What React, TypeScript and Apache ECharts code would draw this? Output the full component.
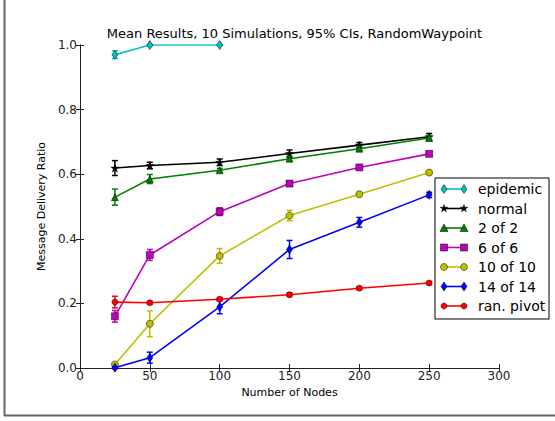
import React, { useEffect, useRef } from "react";
import * as echarts from "echarts";

const nodes = [25, 50, 100, 150, 200, 250];
const epidemicNodes = [25, 50, 100];
const epidemic = [0.97, 1.0, 1.0];
const epidemicErr = [0.012, 0, 0];
const normal = [0.619, 0.627, 0.637, 0.664, 0.69, 0.716];
const normalErr = [0.023, 0.01, 0.01, 0.011, 0.008, 0.01];
const twoOfTwo = [0.529, 0.585, 0.612, 0.648, 0.679, 0.712];
const twoOfTwoErr = [0.025, 0.014, 0.006, 0.008, 0.006, 0.008];
const sixOfSix = [0.16, 0.35, 0.484, 0.571, 0.621, 0.663];
const sixOfSixErr = [0.018, 0.017, 0.012, 0.006, 0.005, 0.005];
const tenOfTen = [0.011, 0.137, 0.347, 0.472, 0.538, 0.605];
const tenOfTenErr = [0.005, 0.04, 0.023, 0.016, 0.007, 0.007];
const fourteen = [0.001, 0.032, 0.189, 0.367, 0.451, 0.536];
const fourteenErr = [0.003, 0.017, 0.021, 0.028, 0.015, 0.008];
const ranPivot = [0.204, 0.202, 0.213, 0.227, 0.247, 0.263];
const ranPivotErr = [0.018, 0.005, 0.005, 0.006, 0.005, 0.005];

const xTicks = [0, 50, 100, 150, 200, 250, 300];
const yTicks = [0, 0.2, 0.4, 0.6, 0.8, 1.0];

const FONT = "DejaVu Sans";
const STAR_PTS: number[][] = [
  [0, -1], [0.22, -0.31], [0.95, -0.31], [0.36, 0.12], [0.59, 0.81],
  [0, 0.38], [-0.59, 0.81], [-0.36, 0.12], [-0.95, -0.31], [-0.22, -0.31],
];
const STAR = "path://M" + STAR_PTS.map((p) => p.join(",")).join(" L") + " Z";

type Marker = "diamond" | "star" | "triangle" | "square" | "circle" | "dot";

type SeriesDef = {
  name: string;
  xs: number[];
  ys: number[];
  err: number[];
  color: string;
  marker: Marker;
};

const defs: SeriesDef[] = [
  { name: "epidemic", xs: epidemicNodes, ys: epidemic, err: epidemicErr, color: "#00BFBF", marker: "diamond" },
  { name: "normal", xs: nodes, ys: normal, err: normalErr, color: "#000000", marker: "star" },
  { name: "2 of 2", xs: nodes, ys: twoOfTwo, err: twoOfTwoErr, color: "#008000", marker: "triangle" },
  { name: "6 of 6", xs: nodes, ys: sixOfSix, err: sixOfSixErr, color: "#BF00BF", marker: "square" },
  { name: "10 of 10", xs: nodes, ys: tenOfTen, err: tenOfTenErr, color: "#BFBF00", marker: "circle" },
  { name: "14 of 14", xs: nodes, ys: fourteen, err: fourteenErr, color: "#0000FF", marker: "diamond" },
  { name: "ran. pivot", xs: nodes, ys: ranPivot, err: ranPivotErr, color: "#FF0000", marker: "dot" },
];

const symbolFor = (m: Marker): [string, number | number[]] => {
  switch (m) {
    case "diamond": return ["diamond", [6, 9]];
    case "star": return [STAR, 8];
    case "triangle": return ["triangle", 7];
    case "square": return ["rect", 7];
    case "circle": return ["circle", 7];
    default: return ["circle", 6];
  }
};

const legendMarker = (m: Marker, cx: number, cy: number, color: string): any => {
  const style = { fill: color, stroke: "#000", lineWidth: 0.5 };
  switch (m) {
    case "diamond":
      return { type: "polygon", shape: { points: [[cx, cy - 4.5], [cx + 3, cy], [cx, cy + 4.5], [cx - 3, cy]] }, style };
    case "star":
      return { type: "polygon", shape: { points: STAR_PTS.map((p) => [cx + p[0] * 4, cy + p[1] * 4]) }, style };
    case "triangle":
      return { type: "polygon", shape: { points: [[cx, cy - 4], [cx + 4, cy + 3.5], [cx - 4, cy + 3.5]] }, style };
    case "square":
      return { type: "rect", shape: { x: cx - 3.5, y: cy - 3.5, width: 7, height: 7 }, style };
    case "circle":
      return { type: "circle", shape: { cx, cy, r: 3.5 }, style };
    default:
      return { type: "circle", shape: { cx, cy, r: 3 }, style };
  }
};

export default function App() {
  const ref = useRef<HTMLDivElement>(null);
  useEffect(() => {
    if (!ref.current) return;
    const chart = echarts.init(ref.current, undefined, { renderer: "svg" });
    const series: any[] = [];
    defs.forEach((d, i) => {
      series.push({
        type: "custom",
        name: d.name + " err",
        xAxisIndex: 0,
        yAxisIndex: 0,
        z: 2 + i * 2,
        silent: true,
        data: d.xs.map((x, k) => [x, d.ys[k] - d.err[k], d.ys[k] + d.err[k]]),
        encode: { x: 0, y: [1, 2] },
        renderItem: (params: any, api: any) => {
          const x = api.value(0);
          const p1 = api.coord([x, api.value(1)]);
          const p2 = api.coord([x, api.value(2)]);
          const st = { stroke: d.color, lineWidth: 1.5 };
          return {
            type: "group",
            children: [
              { type: "line", shape: { x1: p1[0], y1: p1[1], x2: p2[0], y2: p2[1] }, style: st },
              { type: "line", shape: { x1: p1[0] - 3, y1: p1[1], x2: p1[0] + 3, y2: p1[1] }, style: st },
              { type: "line", shape: { x1: p2[0] - 3, y1: p2[1], x2: p2[0] + 3, y2: p2[1] }, style: st },
            ],
          };
        },
      });
      const [sym, size] = symbolFor(d.marker);
      series.push({
        type: "line",
        name: d.name,
        xAxisIndex: 0,
        yAxisIndex: 0,
        z: 3 + i * 2,
        data: d.xs.map((x, k) => [x, d.ys[k]]),
        symbol: sym,
        symbolSize: size,
        showAllSymbol: true,
        lineStyle: { color: d.color, width: 1.6 },
        itemStyle: { color: d.color, borderColor: "#000", borderWidth: 0.5 },
        emphasis: { disabled: true },
      });
    });

    // legend drawn as graphic (matplotlib style: line with a marker at each end)
    const LX = 435, LY = 178, LW = 114, LH = 141, ROW0 = 11, ROWH = 19.5;
    const legendChildren: any[] = [
      { type: "rect", shape: { x: LX, y: LY, width: LW, height: LH }, style: { fill: "#fff", stroke: "#000", lineWidth: 1 } },
    ];
    defs.forEach((d, i) => {
      const cy = LY + ROW0 + i * ROWH;
      legendChildren.push({ type: "line", shape: { x1: 444, y1: cy, x2: 464, y2: cy }, style: { stroke: d.color, lineWidth: 1.6 } });
      legendChildren.push(legendMarker(d.marker, 444, cy, d.color));
      legendChildren.push(legendMarker(d.marker, 464, cy, d.color));
      legendChildren.push({
        type: "text",
        x: 478,
        y: cy,
        style: { text: d.name, fontFamily: FONT, fontSize: 14, fill: "#000", verticalAlign: "middle", align: "left" },
      });
    });

    const axisLine = { show: true, lineStyle: { color: "#222", width: 1 } };
    const tick = { show: true, inside: true, length: 4, lineStyle: { color: "#222" } };
    const label = { fontFamily: FONT, fontSize: 12, color: "#222" };

    chart.setOption({
      animation: false,
      backgroundColor: "#fff",
      title: {
        text: "Mean Results, 10 Simulations, 95% CIs, RandomWaypoint",
        left: 289.5,
        textAlign: "center",
        top: 22,
        textStyle: { fontFamily: FONT, fontSize: 13, fontWeight: "normal", color: "#000" },
      },
      grid: { left: 80, top: 45, width: 419, height: 323, containLabel: false },
      xAxis: [
        {
          type: "value",
          min: 0,
          max: 300,
          interval: 50,
          position: "bottom",
          name: "Number of Nodes",
          nameLocation: "middle",
          nameGap: 13,
          nameTextStyle: { fontFamily: FONT, fontSize: 11, color: "#000" },
          axisLine,
          axisTick: tick,
          axisLabel: { ...label, margin: 2, formatter: (v: number) => (xTicks.includes(v) ? String(v) : "") },
          splitLine: { show: false },
        },
        {
          type: "value",
          min: 0,
          max: 300,
          interval: 50,
          position: "top",
          axisLine,
          axisTick: tick,
          axisLabel: { show: false },
          splitLine: { show: false },
        },
      ],
      yAxis: [
        {
          type: "value",
          min: 0,
          max: 1,
          interval: 0.2,
          position: "left",
          name: "Message Delivery Ratio",
          nameLocation: "middle",
          nameGap: 19,
          nameTextStyle: { fontFamily: FONT, fontSize: 11, color: "#000" },
          axisLine,
          axisTick: tick,
          axisLabel: {
            ...label,
            margin: 3,
            formatter: (v: number) => {
              const m = yTicks.find((t) => Math.abs(t - v) < 1e-6);
              return m === undefined ? "" : m.toFixed(1);
            },
          },
          splitLine: { show: false },
        },
        {
          type: "value",
          min: 0,
          max: 1,
          interval: 0.2,
          position: "right",
          axisLine,
          axisTick: tick,
          axisLabel: { show: false },
          splitLine: { show: false },
        },
      ],
      graphic: [
        { type: "group", z: 100, children: legendChildren },
        { type: "line", shape: { x1: 4.5, y1: 0, x2: 4.5, y2: 416 }, style: { stroke: "#666", lineWidth: 2 }, z: 100 },
        { type: "line", shape: { x1: 4, y1: 415.5, x2: 555, y2: 415.5 }, style: { stroke: "#666", lineWidth: 2 }, z: 100 },
      ],
      series,
    });
    return () => chart.dispose();
  }, []);
  return <div ref={ref} style={{ position: "fixed", left: 0, top: 0, width: 555, height: 421 }} />;
}
